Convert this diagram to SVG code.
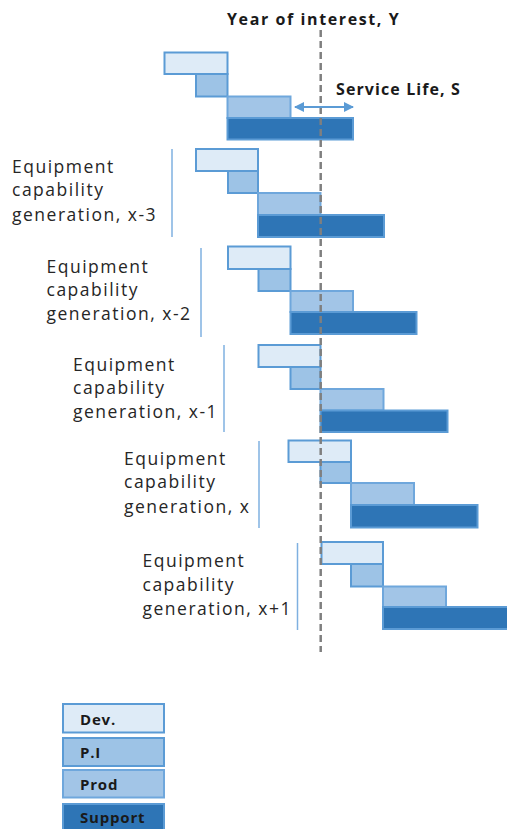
<svg xmlns="http://www.w3.org/2000/svg" width="507" height="829" viewBox="0 0 507 829">
<style>
.dev{fill:#deebf7;stroke:#5b9bd5;stroke-width:2}
.pi{fill:#9dc3e6;stroke:#5b9bd5;stroke-width:2}
.prod{fill:#a2c5e7;stroke:#6fa7dc;stroke-width:2}
.sup{fill:#2e75b6;stroke:#5b9bd5;stroke-width:2}
.sep{stroke:#7fb0e0;stroke-width:1.5}
.lbl{font-family:"Open Sans","Noto Sans",sans-serif;font-size:17.5px;letter-spacing:1.5px;fill:#262626}
.bold{font-family:"Open Sans","Noto Sans",sans-serif;font-size:16px;font-weight:bold;letter-spacing:1.6px;fill:#1a1a1a}
.leg{font-family:"Open Sans","Noto Sans",sans-serif;font-size:15px;font-weight:bold;letter-spacing:0.8px;fill:#1a1a1a}
</style>
<defs>
<marker id="ah" viewBox="0 0 10 10" refX="9" refY="5" markerWidth="5" markerHeight="5" orient="auto-start-reverse">
<path d="M0,0 L10,5 L0,10 z" fill="#5b9bd5"/>
</marker>
</defs>
<rect width="507" height="829" fill="#ffffff"/>

<g id="gen-top">
<rect class="dev" x="164.5" y="52.5" width="63" height="21.5"/>
<rect class="pi" x="196" y="74" width="31.5" height="22.5"/>
<rect class="prod" x="227.5" y="96.5" width="63" height="21.5"/>
<rect class="sup" x="227.5" y="118" width="125.5" height="21.5"/>
</g>

<g id="gen-x-3">
<line class="sep" x1="172" y1="149" x2="172" y2="237"/>
<text class="lbl" x="12" y="173">Equipment</text>
<text class="lbl" x="12" y="196">capability</text>
<text class="lbl" x="12" y="221">generation, x-3</text>
<rect class="dev" x="196" y="149" width="62" height="22"/>
<rect class="pi" x="228" y="171" width="30" height="22"/>
<rect class="prod" x="258" y="193" width="62.5" height="22"/>
<rect class="sup" x="258" y="215" width="126" height="22"/>
</g>

<g id="gen-x-2">
<line class="sep" x1="201" y1="248" x2="201" y2="337"/>
<text class="lbl" x="46.5" y="273">Equipment</text>
<text class="lbl" x="46.5" y="296">capability</text>
<text class="lbl" x="46.5" y="320">generation, x-2</text>
<rect class="dev" x="228" y="246.5" width="62.5" height="22.5"/>
<rect class="pi" x="258.5" y="269" width="32" height="22"/>
<rect class="prod" x="290.5" y="291" width="62.5" height="21"/>
<rect class="sup" x="290.5" y="312" width="126" height="22"/>
</g>

<g id="gen-x-1">
<line class="sep" x1="224" y1="345" x2="224" y2="432"/>
<text class="lbl" x="73" y="371">Equipment</text>
<text class="lbl" x="73" y="394">capability</text>
<text class="lbl" x="73" y="418">generation, x-1</text>
<rect class="dev" x="258.5" y="345" width="62" height="22"/>
<rect class="pi" x="290.5" y="367" width="30" height="22"/>
<rect class="prod" x="320.5" y="389" width="63" height="21.5"/>
<rect class="sup" x="320.5" y="410.5" width="127" height="21.5"/>
</g>

<g id="gen-x">
<line class="sep" x1="259" y1="441" x2="259" y2="528"/>
<text class="lbl" x="124" y="465">Equipment</text>
<text class="lbl" x="124" y="488">capability</text>
<text class="lbl" x="124" y="513">generation, x</text>
<rect class="dev" x="288.5" y="440.5" width="62.5" height="21.5"/>
<rect class="pi" x="320.5" y="462" width="30.5" height="21"/>
<rect class="prod" x="351" y="483" width="63" height="22"/>
<rect class="sup" x="351" y="505" width="126.5" height="22.5"/>
</g>

<g id="gen-x+1">
<line class="sep" x1="297.5" y1="543" x2="297.5" y2="630"/>
<text class="lbl" x="142.5" y="567">Equipment</text>
<text class="lbl" x="142.5" y="591">capability</text>
<text class="lbl" x="142.5" y="615">generation, x+1</text>
<rect class="dev" x="321.5" y="542" width="61.5" height="22"/>
<rect class="pi" x="351" y="564" width="32" height="22.5"/>
<rect class="prod" x="383" y="586.5" width="63" height="20.5"/>
<rect class="sup" x="383" y="607" width="130" height="22"/>
</g>

<g id="connectors">
<line x1="320.7" y1="30" x2="320.7" y2="652" stroke="#7f7f7f" stroke-width="2.5" stroke-dasharray="7,4"/>
<line x1="295" y1="107" x2="353" y2="107" stroke="#5b9bd5" stroke-width="2" marker-start="url(#ah)" marker-end="url(#ah)"/>
</g>

<g id="titles">
<text class="bold" x="227" y="25">Year of interest, Y</text>
<text class="bold" x="336" y="95" style="letter-spacing:1.1px">Service Life, S</text>
</g>

<g id="legend">
<rect class="dev" x="63" y="704" width="101" height="28.5"/>
<text class="leg" x="80" y="725">Dev.</text>
<rect class="pi" x="63" y="738" width="101" height="28"/>
<text class="leg" x="80" y="758">P.I</text>
<rect class="prod" x="63" y="770" width="101" height="27.5"/>
<text class="leg" x="80" y="790">Prod</text>
<rect class="sup" x="63" y="804" width="101" height="30"/>
<text class="leg" x="80" y="823">Support</text>
</g>
</svg>
